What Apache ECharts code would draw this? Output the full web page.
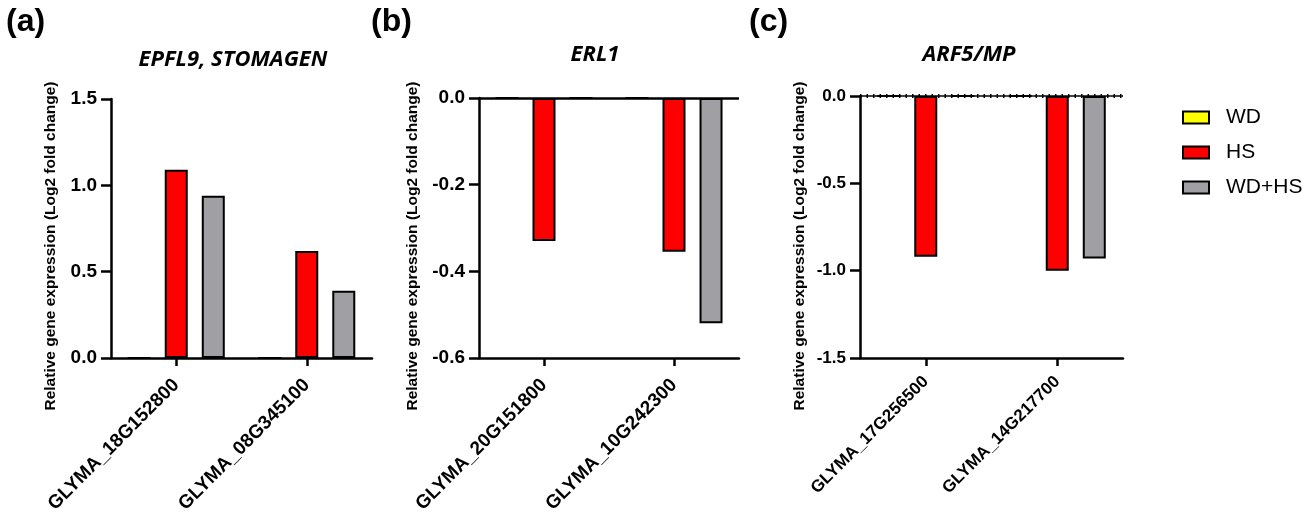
<!DOCTYPE html>
<html>
<head>
<meta charset="utf-8">
<script src="https://cdn.jsdelivr.net/npm/echarts@6/dist/echarts.min.js"></script>
<style>html,body{margin:0;padding:0;background:#fff}#c{width:1316px;height:519px}</style>
</head>
<body>
<div id="c"></div>
<script>
// ---- data ----
const seriesNames = ['WD', 'HS', 'WD+HS'];
const catsA = ['GLYMA_18G152800', 'GLYMA_08G345100'];
const wdA = [0, 0];
const hsA = [1.09, 0.62];
const wdhsA = [0.94, 0.39];

const catsB = ['GLYMA_20G151800', 'GLYMA_10G242300'];
const wdB = [0, 0];
const hsB = [-0.33, -0.355];
const wdhsB = [0, -0.52];

const catsC = ['GLYMA_17G256500', 'GLYMA_14G217700'];
const wdC = [0, 0];
const hsC = [-0.92, -1.0];
const wdhsC = [0, -0.93];

const titles = ['EPFL9, STOMAGEN', 'ERL1', 'ARF5/MP'];
const panelLabels = ['(a)', '(b)', '(c)'];
const yName = 'Relative gene expression (Log2 fold change)';

const colors = {'WD': '#FFFF00', 'HS': '#FF0000', 'WD+HS': '#A09FA4'};
const FONT = '"Liberation Sans", Arial, sans-serif';

const grids = [
  {left: 111, top: 99, width: 261, height: 259, outerBoundsMode: 'none', containLabel: false},
  {left: 479, top: 98, width: 260, height: 260, outerBoundsMode: 'none', containLabel: false},
  {left: 860, top: 96, width: 263, height: 262, outerBoundsMode: 'none', containLabel: false}
];
const yCfg = [
  {min: 0, max: 1.5, interval: 0.5, fs: 19},
  {min: -0.6, max: 0, interval: 0.2, fs: 19},
  {min: -1.5, max: 0, interval: 0.5, fs: 17}
];
const xFs = [19, 19, 17];
const xMargin = [24, 24, 21];
const cats = [catsA, catsB, catsC];
const data = [[wdA, hsA, wdhsA], [wdB, hsB, wdhsB], [wdC, hsC, wdhsC]];

const xAxes = [], yAxes = [], series = [];
for (let i = 0; i < 3; i++) {
  xAxes.push({
    type: 'category', gridIndex: i, data: cats[i],
    axisLine: {onZero: false, lineStyle: {color: '#000', width: 2.5}},
    axisTick: {show: true, alignWithLabel: true, inside: false, length: 8, lineStyle: {color: '#000', width: 2.5}},
    axisLabel: {rotate: 45, margin: xMargin[i], color: '#000', fontWeight: 'bold', fontSize: xFs[i], fontFamily: FONT}
  });
  yAxes.push({
    type: 'value', gridIndex: i, min: yCfg[i].min, max: yCfg[i].max, interval: yCfg[i].interval,
    splitLine: {show: false},
    axisLine: {show: true, onZero: false, lineStyle: {color: '#000', width: 2.5}},
    axisTick: {show: true, inside: false, length: 10, lineStyle: {color: '#000', width: 2.5}},
    axisLabel: {color: '#000', fontWeight: 'bold', fontSize: yCfg[i].fs, fontFamily: FONT, margin: 14,
      formatter: v => v.toFixed(1)}
  });
  for (let s = 0; s < 3; s++) {
    const ser = {
      type: 'bar', name: seriesNames[s], xAxisIndex: i, yAxisIndex: i,
      data: data[i][s], barWidth: 23, barGap: '61%',
      itemStyle: {color: colors[seriesNames[s]], borderColor: '#000', borderWidth: 2},
      emphasis: {disabled: true}, animation: false
    };
    if (i === 1 && s === 1) {
      ser.markLine = {silent: true, symbol: 'none', label: {show: false},
        lineStyle: {color: '#000', width: 2.5, type: 'solid'}, data: [{yAxis: 0}]};
    }
    if (i === 2 && s === 1) {
      ser.markLine = {silent: true, symbol: 'none', label: {show: false},
        lineStyle: {color: '#000', width: 1.5, type: 'solid'}, data: [{yAxis: 0}]};
    }
    if (i === 2 && s === 2) {
      ser.markLine = {silent: true, symbol: 'none', label: {show: false},
        lineStyle: {color: '#000', width: 4, type: [1.5, 5]}, data: [{yAxis: 0}]};
    }
    series.push(ser);
  }
}

const titleCenters = [[233, 60], [595, 55], [969, 55]];
const panelPos = [[6, 6], [371, 6], [749, 6]];
const yNamePos = [[51, 246], [413, 246], [800, 246]];

const graphic = [];
for (let i = 0; i < 3; i++) {
  graphic.push({type: 'text', x: titleCenters[i][0], y: titleCenters[i][1],
    style: {text: titles[i], fill: '#000', align: 'center', verticalAlign: 'middle',
      font: 'italic bold 22px "Open Sans", sans-serif'}});
  graphic.push({type: 'text', x: panelPos[i][0], y: panelPos[i][1],
    style: {text: panelLabels[i], fill: '#000', align: 'left', verticalAlign: 'top',
      font: 'bold 32px "Liberation Sans", Arial, sans-serif'}});
  graphic.push({type: 'text', x: yNamePos[i][0], y: yNamePos[i][1], rotation: Math.PI / 2,
    style: {text: yName, fill: '#000', align: 'center', verticalAlign: 'middle',
      font: 'bold 15.5px "Liberation Sans", Arial, sans-serif'}});
}

const chart = echarts.init(document.getElementById('c'));
chart.setOption({
  animation: false,
  backgroundColor: '#fff',
  grid: grids,
  xAxis: xAxes,
  yAxis: yAxes,
  series: series,
  legend: {
    data: seriesNames, orient: 'vertical', left: 1177, top: 102,
    icon: 'rect', itemWidth: 26, itemHeight: 12, itemGap: 14,
    textStyle: {color: '#000', fontSize: 21, fontFamily: FONT, padding: [0, 0, 0, 12]},
    selectedMode: false
  },
  graphic: graphic
});
</script>
</body>
</html>
